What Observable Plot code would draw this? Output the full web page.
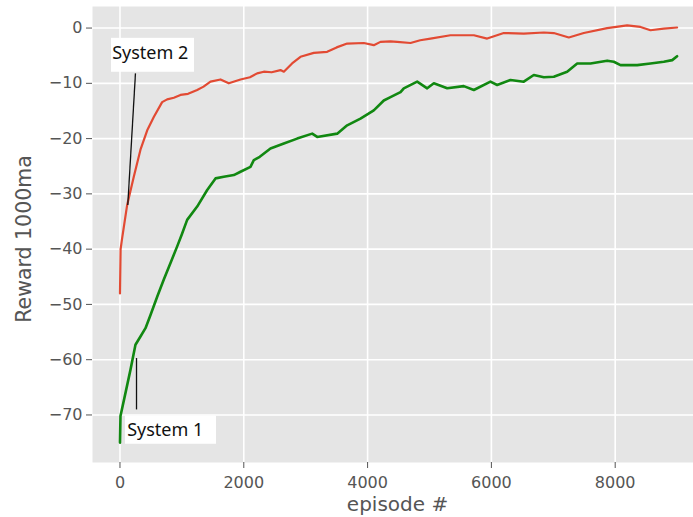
<!DOCTYPE html>
<html>
<head>
<meta charset="utf-8">
<script src="https://cdn.jsdelivr.net/npm/d3@7"></script>
<script src="https://cdn.jsdelivr.net/npm/@observablehq/plot@0.6"></script>
<style>
  html, body { margin: 0; padding: 0; background: white; overflow: hidden; }
</style>
</head>
<body>
<div id="chart"></div>
<script>
// System 2 (red)
const sys2Episodes = [0, 10, 35, 116, 223, 331, 440, 546, 681, 762, 870, 977, 1100, 1247, 1350, 1462, 1624, 1758, 1947, 2100, 2216, 2323, 2450, 2593, 2647, 2780, 2916, 3131, 3347, 3500, 3670, 3939, 4100, 4208, 4370, 4478, 4693, 4850, 5016, 5339, 5716, 5932, 6200, 6523, 6847, 7008, 7251, 7493, 7870, 8193, 8409, 8570, 8785, 9000];
const sys2Reward   = [-48, -40, -38, -32, -26.9, -22, -18.5, -16.1, -13.4, -12.9, -12.6, -12.1, -11.9, -11.2, -10.6, -9.7, -9.3, -10, -9.3, -8.9, -8.2, -7.9, -8.0, -7.6, -7.9, -6.4, -5.2, -4.5, -4.3, -3.5, -2.8, -2.7, -3.1, -2.5, -2.4, -2.5, -2.7, -2.2, -1.9, -1.3, -1.3, -1.9, -0.9, -1.0, -0.8, -0.9, -1.7, -0.9, 0.0, 0.5, 0.2, -0.4, -0.1, 0.1];

// System 1 (green)
const sys1Episodes = [0, 8, 89, 170, 250, 331, 412, 493, 601, 708, 816, 924, 1000, 1085, 1247, 1409, 1543, 1677, 1839, 1947, 2108, 2162, 2258, 2431, 2647, 2862, 3105, 3186, 3509, 3670, 3885, 4100, 4262, 4370, 4532, 4585, 4801, 4963, 5070, 5286, 5554, 5716, 5985, 6093, 6308, 6523, 6685, 6847, 7008, 7224, 7386, 7601, 7870, 7978, 8086, 8355, 8570, 8785, 8921, 9000];
const sys1Reward   = [-75, -70.2, -66, -61.8, -57.3, -55.8, -54.3, -51.9, -48.6, -45.5, -42.5, -39.5, -37.3, -34.7, -32.3, -29.3, -27.2, -26.9, -26.6, -26, -25.1, -23.9, -23.3, -21.8, -20.9, -20, -19.1, -19.7, -19.1, -17.6, -16.4, -14.9, -13.1, -12.5, -11.6, -10.9, -9.7, -10.9, -10.0, -10.9, -10.5, -11.2, -9.7, -10.3, -9.4, -9.7, -8.5, -8.9, -8.8, -7.9, -6.4, -6.4, -5.9, -6.1, -6.7, -6.7, -6.4, -6.1, -5.8, -5.1];

// Ticks
const xTicks = [0, 2000, 4000, 6000, 8000];
const yTicks = [-70, -60, -50, -40, -30, -20, -10, 0];

// Annotations (in data units)
const annoLabels = ["System 2", "System 1"];
const annoTextX  = [-126, 116];
const annoTextY  = [-4.5, -72.7];
const annoBoxX1  = [-137, 89];
const annoBoxX2  = [1204, 1559];
const annoBoxY1  = [-1.86, -70.2];
const annoBoxY2  = [-8.0, -75.3];
const annoLinkX1 = [250, 267];
const annoLinkY1 = [-8.2, -59.7];
const annoLinkX2 = [126, 267];
const annoLinkY2 = [-32.0, -69];

const sys2 = sys2Episodes.map((e, i) => ({episode: e, reward: sys2Reward[i]}));
const sys1 = sys1Episodes.map((e, i) => ({episode: e, reward: sys1Reward[i]}));
const annos = annoLabels.map((t, i) => ({
  label: t, tx: annoTextX[i], ty: annoTextY[i],
  bx1: annoBoxX1[i], bx2: annoBoxX2[i], by1: annoBoxY1[i], by2: annoBoxY2[i],
  lx1: annoLinkX1[i], ly1: annoLinkY1[i], lx2: annoLinkX2[i], ly2: annoLinkY2[i]
}));

const fmt = d3.format("d");
const FONT = "DejaVu Sans";

const chart = Plot.plot({
  width: 693,
  height: 517,
  marginLeft: 92,
  marginRight: 0,
  marginTop: 6,
  marginBottom: 55,
  style: {fontFamily: FONT, fontSize: "16px", color: "#555", background: "white"},
  x: {domain: [-444, 9265], ticks: xTicks, tickFormat: fmt},
  y: {domain: [-78.6, 3.9], ticks: yTicks, tickFormat: fmt},
  marks: [
    Plot.frame({fill: "#e5e5e5", stroke: null}),
    Plot.gridX(xTicks, {stroke: "white", strokeOpacity: 1, strokeWidth: 1.6}),
    Plot.gridY(yTicks, {stroke: "white", strokeOpacity: 1, strokeWidth: 1.6}),
    Plot.axisX(xTicks, {tickSize: 6, tickPadding: 8, fontSize: 16, fontFamily: FONT, tickFormat: fmt, stroke: "#555", fill: "#555", label: null}),
    Plot.axisY(yTicks, {tickSize: 6, tickPadding: 4, fontSize: 16, fontFamily: FONT, tickFormat: fmt, stroke: "#555", fill: "#555", label: null}),
    Plot.text(["episode #"], {frameAnchor: "bottom", textAnchor: "middle", lineAnchor: "middle", dx: 4.5, dy: 42, fontSize: 20, fontFamily: FONT, fill: "#555"}),
    Plot.text(["Reward 1000ma"], {frameAnchor: "left", textAnchor: "middle", lineAnchor: "middle", rotate: -90, dx: -68, dy: 4.5, fontSize: 20.5, fontFamily: FONT, fill: "#555"}),
    Plot.line(sys2, {x: "episode", y: "reward", stroke: "#E24A33", strokeWidth: 2.2}),
    Plot.line(sys1, {x: "episode", y: "reward", stroke: "#118811", strokeWidth: 2.6}),
    Plot.rect(annos, {x1: "bx1", x2: "bx2", y1: "by1", y2: "by2", fill: "white"}),
    Plot.link(annos, {x1: "lx1", y1: "ly1", x2: "lx2", y2: "ly2", stroke: "#111", strokeWidth: 1.3}),
    Plot.text(annos, {x: "tx", y: "ty", text: "label", textAnchor: "start", fontSize: 18, fontFamily: "Noto Sans", fill: "#111"})
  ]
});
document.getElementById("chart").appendChild(chart);
</script>
</body>
</html>
